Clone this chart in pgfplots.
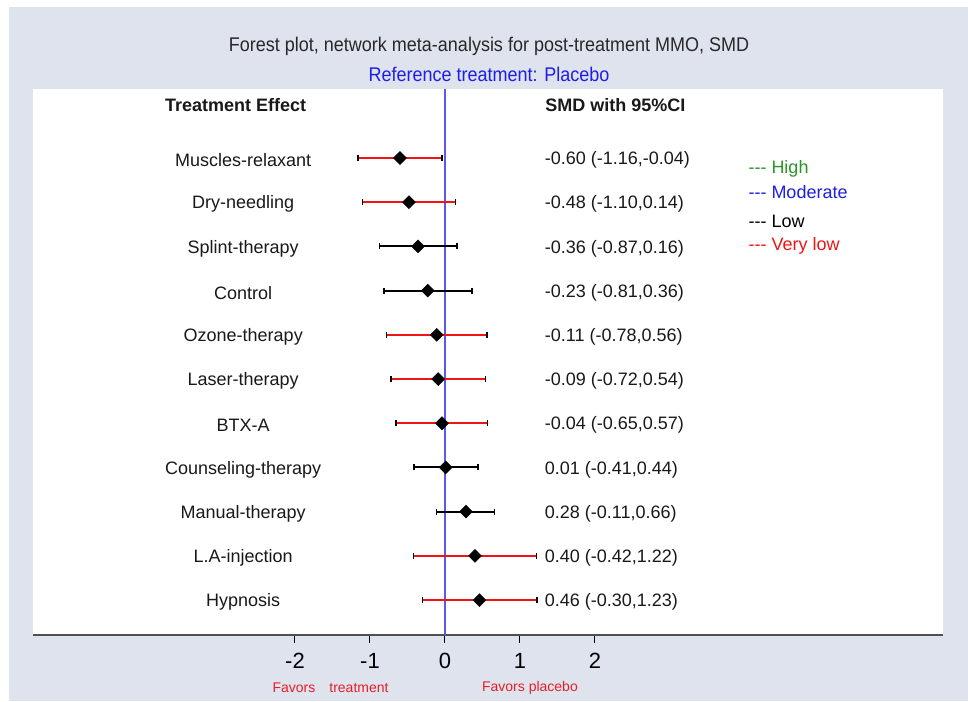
\documentclass[border=0pt]{standalone}
\usepackage{pgfplots}
\usepackage{pgfplotstable}
\pgfplotsset{compat=1.18}
\usepackage{fontspec}
\setmainfont{Liberation Sans}
\definecolor{bggray}{RGB}{222,227,238}
\definecolor{cired}{RGB}{240,20,20}
\definecolor{refblue}{RGB}{90,90,230}
\definecolor{txtblue}{RGB}{30,30,230}
\definecolor{lgreen}{RGB}{40,150,40}
\definecolor{favred}{RGB}{230,30,40}
\definecolor{axgray}{RGB}{80,80,80}
\definecolor{titlegray}{RGB}{40,40,40}

\pgfplotstableread{
row est lo hi
1 -0.60 -1.16 -0.04
2 -0.48 -1.10 0.14
5 -0.11 -0.78 0.56
6 -0.09 -0.72 0.54
7 -0.04 -0.65 0.57
10 0.40 -0.42 1.22
11 0.46 -0.30 1.23
}\redrows
\pgfplotstableread{
row est lo hi
3 -0.36 -0.87 0.16
4 -0.23 -0.81 0.36
8 0.01 -0.41 0.44
9 0.28 -0.11 0.66
}\blackrows

\begin{document}
\begin{tikzpicture}
\fill[white] (0pt,0pt) rectangle (968pt,701pt);
\fill[bggray] (9pt,0pt) rectangle (968pt,694pt);
\node[font=\fontsize{18}{20}\selectfont, text=titlegray] at (489pt,655pt) {\scalebox{1}[1.1]{Forest plot, network meta-analysis for post-treatment MMO, SMD}};
\node[font=\fontsize{18}{20}\selectfont, text=txtblue] at (489pt,627pt) {\scalebox{1}[1.1]{Reference treatment: Placebo}};
\begin{axis}[
  at={(33pt,66pt)}, anchor=south west,
  width=910pt, height=546pt, scale only axis,
  xmin=-5.493, xmax=6.64,
  ymin=-0.561, ymax=11.79, y dir=reverse,
  axis y line=none,
  axis x line*=bottom,
  x axis line style={draw=axgray, line width=2pt},
  xtick={-2,-1,0,1,2},
  xticklabels={-2,-1,0,1,2},
  ytick=\empty,
  tick align=outside,
  major tick length=8pt,
  tick style={draw=black, line width=1pt},
  xticklabel style={font=\fontsize{22}{22}\selectfont, text=black, yshift=-7pt},
  axis background/.style={fill=white},
  clip=false,
]
\addplot[refblue, line width=1.5pt] coordinates {(0,-0.561) (0,11.79)};
\addplot[only marks, mark=square*, mark size=4.6pt, mark options={rotate=45, fill=black, draw=black},
  error bars/.cd, x dir=both, x explicit, error mark=|,
  error bar style={cired, line width=2pt},
  error mark options={rotate=0, mark size=3pt, line width=1.5pt, draw=black}]
  table[x=est, y=row, x error plus expr=\thisrow{hi}-\thisrow{est}, x error minus expr=\thisrow{est}-\thisrow{lo}] {\redrows};
\addplot[only marks, mark=square*, mark size=4.6pt, mark options={rotate=45, fill=black, draw=black},
  error bars/.cd, x dir=both, x explicit, error mark=|,
  error bar style={black, line width=2pt},
  error mark options={rotate=0, mark size=3pt, line width=1.5pt, draw=black}]
  table[x=est, y=row, x error plus expr=\thisrow{hi}-\thisrow{est}, x error minus expr=\thisrow{est}-\thisrow{lo}] {\blackrows};

\begin{scope}[every node/.style={font=\fontsize{18}{20}\selectfont, text=black!90, yshift=-2pt}]
\node[font=\fontsize{18}{20}\selectfont\bfseries] at (axis cs:-2.79,-0.244) {Treatment Effect};
\node[anchor=west, font=\fontsize{18}{20}\selectfont\bfseries] at (axis cs:1.29,-0.244) {SMD with 95\%CI};
\node at (axis cs:-2.69,1) {Muscles-relaxant};
\node at (axis cs:-2.69,2) {Dry-needling};
\node at (axis cs:-2.69,3) {Splint-therapy};
\node at (axis cs:-2.69,4) {Control};
\node at (axis cs:-2.69,5) {Ozone-therapy};
\node at (axis cs:-2.69,6) {Laser-therapy};
\node at (axis cs:-2.69,7) {BTX-A};
\node at (axis cs:-2.69,8) {Counseling-therapy};
\node at (axis cs:-2.69,9) {Manual-therapy};
\node at (axis cs:-2.69,10) {L.A-injection};
\node at (axis cs:-2.69,11) {Hypnosis};
\node[anchor=west] at (axis cs:1.285,1) {-0.60 (-1.16,-0.04)};
\node[anchor=west] at (axis cs:1.285,2) {-0.48 (-1.10,0.14)};
\node[anchor=west] at (axis cs:1.285,3) {-0.36 (-0.87,0.16)};
\node[anchor=west] at (axis cs:1.285,4) {-0.23 (-0.81,0.36)};
\node[anchor=west] at (axis cs:1.285,5) {-0.11 (-0.78,0.56)};
\node[anchor=west] at (axis cs:1.285,6) {-0.09 (-0.72,0.54)};
\node[anchor=west] at (axis cs:1.285,7) {-0.04 (-0.65,0.57)};
\node[anchor=west] at (axis cs:1.285,8) {0.01 (-0.41,0.44)};
\node[anchor=west] at (axis cs:1.285,9) {0.28 (-0.11,0.66)};
\node[anchor=west] at (axis cs:1.285,10) {0.40 (-0.42,1.22)};
\node[anchor=west] at (axis cs:1.285,11) {0.46 (-0.30,1.23)};
\end{scope}
\begin{scope}[every node/.style={anchor=west, font=\fontsize{18}{20}\selectfont, yshift=-1pt}]
\node[text=lgreen] at (axis cs:4.0,1.226) {-{}-{}- High};
\node[text=txtblue] at (axis cs:4.0,1.747) {-{}-{}- Moderate};
\node[text=black] at (axis cs:4.0,2.40) {-{}-{}- Low};
\node[text=cired] at (axis cs:4.0,2.97) {-{}-{}- Very low};
\end{scope}
\begin{scope}[every node/.style={font=\fontsize{14}{16}\selectfont, text=favred}]
\node at (axis cs:-2.013,12.99) {Favors};
\node at (axis cs:-1.147,12.99) {treatment};
\node at (axis cs:1.133,12.99) {Favors placebo};
\end{scope}
\end{axis}
\end{tikzpicture}
\end{document}
